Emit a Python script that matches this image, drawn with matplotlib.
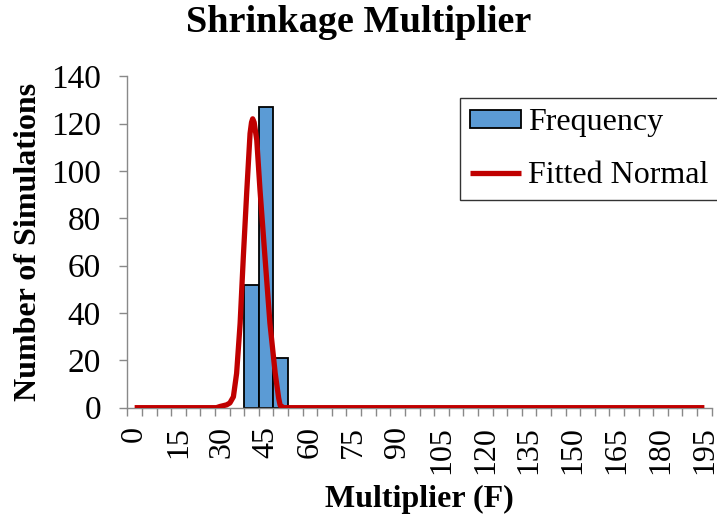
import matplotlib.pyplot as plt
import numpy as np

# histogram (category = multiplier bin, step 5)
categories = list(range(0, 200, 5))
bar_x = [40, 45, 50]
bar_counts = [52, 127, 21]

# fitted normal curve
curve_x = [0, 28.0, 29.2, 31.5, 32.6, 33.8, 34.9, 36.1, 37.2, 38.4, 39.5, 40.0, 40.4,
           40.9, 41.8, 42.9, 44.6, 46.3, 48.1, 49.3, 49.8, 51.0, 195]
curve_y = [0, 0, 0.5, 1.2, 2, 4.6, 14.5, 35.6, 63.7, 91.9, 115.8, 120.5, 122,
           120.5, 113, 92, 63.7, 35.7, 14.6, 4, 1, 0, 0]

tick_labels = [str(c) for c in categories[::3]]

plt.rcParams['font.family'] = ['Liberation Serif', 'DejaVu Serif']
axis_col = '#898989'

fig = plt.figure(figsize=(7.17, 5.22), dpi=100)
ax = fig.add_axes([0.1776, 0.219, 0.815, 0.635])

bars = ax.bar(bar_x, bar_counts, width=5, color='#5B9BD5', edgecolor='black',
              linewidth=1.3, label='Frequency', zorder=2)
line, = ax.plot(curve_x, curve_y, color='#C00000', linewidth=3.8, label='Fitted Normal',
                zorder=3, solid_capstyle='butt')

ax.set_xlim(-2.5, 197.5)
ax.set_ylim(0, 140)
ax.set_yticks(np.arange(0, 141, 20))

# category axis: marks between categories, labels every third category
ax.set_xticks(categories[::3])
ax.set_xticklabels(tick_labels, rotation=90)
ax.set_xticks(np.arange(-2.5, 198, 5), minor=True)
ax.tick_params(axis='x', which='major', length=0, pad=13, labelsize=23)
ax.tick_params(axis='x', which='minor', length=6, color=axis_col, width=1)
ax.tick_params(axis='y', length=6, color=axis_col, width=1, pad=13, labelsize=24)

for s in ['top', 'right']:
    ax.spines[s].set_visible(False)
for s in ['left', 'bottom']:
    ax.spines[s].set_color(axis_col)
    ax.spines[s].set_linewidth(1)

fig.suptitle('Shrinkage Multiplier', fontsize=27.5, fontweight='bold', x=0.5, y=0.99)
ax.set_xlabel('Multiplier (F)', fontsize=23, fontweight='bold', labelpad=8)
ax.set_ylabel('Number of Simulations', fontsize=23, fontweight='bold', labelpad=6)

leg = ax.legend([bars, line], ['Frequency', 'Fitted Normal'], loc='upper left',
                bbox_to_anchor=(460 / 717, 1 - 98 / 522),
                bbox_transform=fig.transFigure, fontsize=23, frameon=True,
                fancybox=False, edgecolor='black', handlelength=1.6,
                handleheight=0.5, handletextpad=0.2, borderpad=0.32,
                labelspacing=0.75, borderaxespad=0)
leg.get_frame().set_linewidth(1)

fig.savefig('out.png', dpi=100)
